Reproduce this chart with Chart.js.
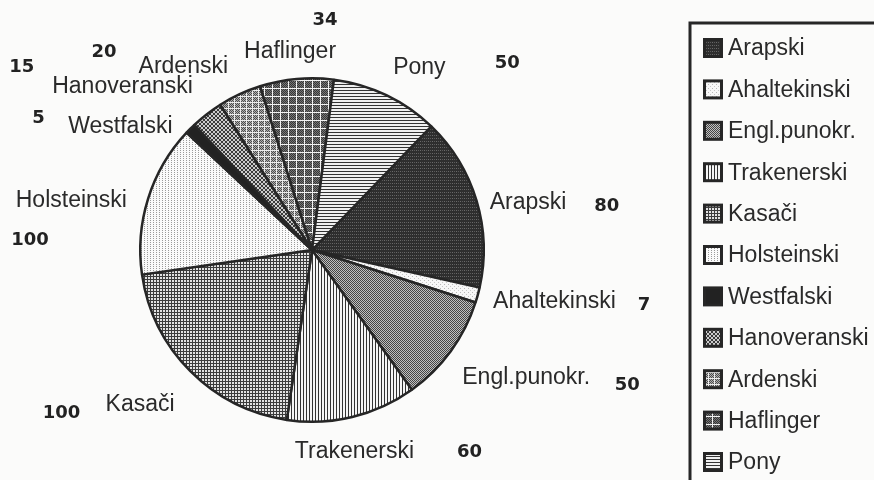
<!DOCTYPE html>
<html>
<head>
<meta charset="utf-8">
<script src="https://cdn.jsdelivr.net/npm/chart.js@4.4.1/dist/chart.umd.min.js"></script>
<style>
  html, body { margin: 0; padding: 0; background: #fbfbfa; }
  #wrap { width: 874px; height: 480px; }
</style>
</head>
<body>
<div id="wrap"><canvas id="pie" width="874" height="480"></canvas></div>
<script>
// ── Data ───────────────────────────────────────────────────────────
const labels = ["Arapski", "Ahaltekinski", "Engl.punokr.", "Trakenerski", "Kasači",
  "Holsteinski", "Westfalski", "Hanoveranski", "Ardenski", "Haflinger", "Pony"];
// slice sizes
const values = [80, 7, 50, 60, 100, 70, 5, 15, 20, 34, 50];
// numbers printed next to the names (Holsteinski is printed as 100)
const printedValues = [80, 7, 50, 60, 100, 100, 5, 15, 20, 34, 50];

// ── Label placement (style only) ───────────────────────────────────
const labelNudge = [[-4, 7], [-2, 2], [-3, 16], [-2, 17], [-3, 21], [-4, 7],
  [-5, 11], [-3, -13], [-4, -11], [-5, -9], [-1, -11]];
const numberOffset = [[117, 4], [151, 4], [165, 7], [115, 1], [-113, 8], [-97, 40],
  [-134, -9], [-171, -20], [-124, -15], [35, -32], [114, -5]];

const INK = "#262626";
const NAME_FONT = "23px 'Liberation Sans', Arial, sans-serif";
const NUM_FONT = "bold 18px 'DejaVu Sans', sans-serif";

// ── Fill patterns (scan-like hatching) ─────────────────────────────
function tile(w, h, draw) {
  const c = document.createElement("canvas");
  c.width = w; c.height = h;
  const g = c.getContext("2d");
  draw(g);
  return g.createPattern(c, "repeat");
}
function px(g, x, y, col) { g.fillStyle = col; g.fillRect(x, y, 1, 1); }

const patterns = [
  // Arapski: near black with faint dotted rows
  tile(4, 3, function (g) { g.fillStyle = "#2e2e2e"; g.fillRect(0, 0, 4, 3); px(g, 0, 0, "#6a6a6a"); px(g, 2, 0, "#5a5a5a"); }),
  // Ahaltekinski: almost white, sparse dots
  tile(4, 4, function (g) { g.fillStyle = "#f8f8f8"; g.fillRect(0, 0, 4, 4); px(g, 0, 0, "#b8b8b8"); px(g, 2, 2, "#c8c8c8"); }),
  // Engl.punokr.: fine checker grey
  tile(2, 2, function (g) { g.fillStyle = "#c0c0c0"; g.fillRect(0, 0, 2, 2); px(g, 0, 0, "#454545"); px(g, 1, 1, "#454545"); }),
  // Trakenerski: vertical lines
  tile(3, 1, function (g) { g.fillStyle = "#f6f6f6"; g.fillRect(0, 0, 3, 1); px(g, 0, 0, "#333"); }),
  // Kasači: fine grid
  tile(3, 3, function (g) { g.fillStyle = "#e2e2e2"; g.fillRect(0, 0, 3, 3); g.fillStyle = "#3c3c3c"; g.fillRect(0, 0, 3, 1); g.fillRect(0, 0, 1, 3); }),
  // Holsteinski: light dotted columns
  tile(3, 2, function (g) { g.fillStyle = "#fafafa"; g.fillRect(0, 0, 3, 2); px(g, 0, 0, "#9a9a9a"); }),
  // Westfalski: solid
  tile(1, 1, function (g) { g.fillStyle = "#222"; g.fillRect(0, 0, 1, 1); }),
  // Hanoveranski: dense crosshatch
  tile(4, 4, function (g) {
    g.fillStyle = "#cccccc"; g.fillRect(0, 0, 4, 4);
    [[0, 0], [1, 1], [2, 2], [3, 3], [3, 0], [2, 1], [1, 2], [0, 3]].forEach(function (p) { px(g, p[0], p[1], "#3a3a3a"); });
  }),
  // Ardenski: grey dots with light grid
  tile(6, 6, function (g) {
    g.fillStyle = "#b0b0b0"; g.fillRect(0, 0, 6, 6);
    for (let y = 0; y < 6; y++) for (let x = 0; x < 6; x++) if ((x + y) % 2 === 0) px(g, x, y, "#4c4c4c");
    g.fillStyle = "#ececec"; g.fillRect(0, 0, 6, 1); g.fillRect(0, 0, 1, 6);
  }),
  // Haflinger: dark cells with white grid
  tile(8, 8, function (g) {
    g.fillStyle = "#767676"; g.fillRect(0, 0, 8, 8);
    for (let y = 0; y < 8; y++) for (let x = 0; x < 8; x++) if ((x + y) % 2 === 0) px(g, x, y, "#363636");
    g.fillStyle = "#f2f2f2"; g.fillRect(0, 0, 8, 1); g.fillRect(0, 0, 1, 8);
  }),
  // Pony: horizontal lines
  tile(1, 3, function (g) { g.fillStyle = "#f0f0f0"; g.fillRect(0, 0, 1, 3); px(g, 0, 0, "#333"); })
];

// ── Names, printed numbers and the boxed legend ───────────────────
const annotate = {
  id: "annotate",
  afterDraw: function (chart) {
    const ctx = chart.ctx;
    const arcs = chart.getDatasetMeta(0).data;
    ctx.save();
    ctx.textBaseline = "middle";
    arcs.forEach(function (arc, i) {
      const p = arc.getProps(["x", "y", "startAngle", "endAngle", "outerRadius"], true);
      const mid = (p.startAngle + p.endAngle) / 2;
      const r = p.outerRadius + 18;
      const cx = Math.cos(mid);
      const ax = p.x + cx * r + labelNudge[i][0];
      const ay = p.y + Math.sin(mid) * r + labelNudge[i][1];
      ctx.font = NAME_FONT;
      ctx.fillStyle = "#2a2a2a";
      ctx.textAlign = cx > 0.3 ? "left" : (cx < -0.3 ? "right" : "center");
      ctx.fillText(labels[i], ax, ay);
      ctx.font = NUM_FONT;
      ctx.fillStyle = "#222";
      ctx.textAlign = "center";
      ctx.fillText(String(printedValues[i]), ax + numberOffset[i][0], ay + numberOffset[i][1]);
    });

    // legend box runs off the right and bottom edges
    ctx.strokeStyle = INK;
    ctx.lineWidth = 3;
    ctx.strokeRect(690, 23, 220, 500);
    ctx.font = NAME_FONT;
    ctx.textAlign = "left";
    labels.forEach(function (name, i) {
      const cy = 48 + i * 41.4;
      ctx.fillStyle = patterns[i];
      ctx.fillRect(704, cy - 9, 18, 18);
      ctx.lineWidth = 3;
      ctx.strokeRect(704.5, cy - 8.5, 17, 17);
      ctx.fillStyle = "#2a2a2a";
      ctx.fillText(name, 728, cy + 1);
    });
    ctx.restore();
  }
};

new Chart(document.getElementById("pie"), {
  type: "pie",
  data: {
    labels: labels,
    datasets: [{
      data: values,
      backgroundColor: patterns,
      borderColor: INK,
      borderWidth: 2.5,
    }],
  },
  options: {
    responsive: false,
    devicePixelRatio: 1,
    animation: false,
    rotation: 44,
    layout: { padding: { left: 139, right: 389, top: 77, bottom: 57 } },
    plugins: {
      legend: { display: false },
      tooltip: { enabled: false },
    },
  },
  plugins: [annotate],
});
</script>
</body>
</html>
